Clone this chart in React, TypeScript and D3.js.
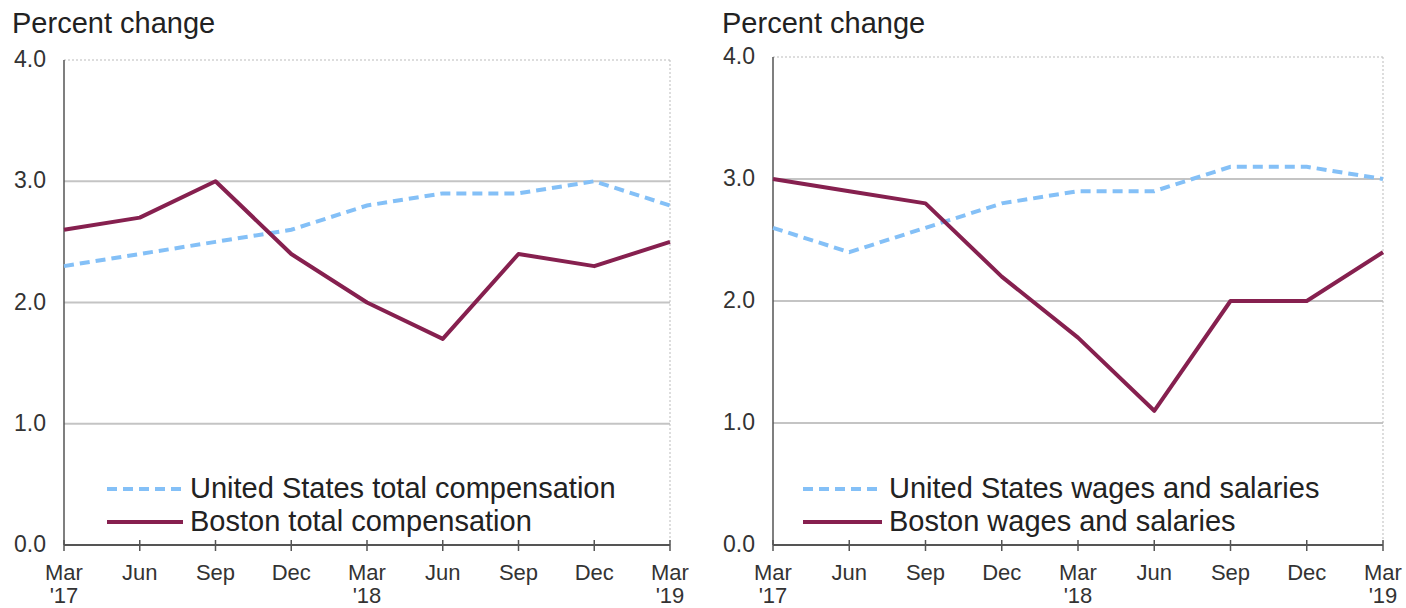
import * as d3 from 'd3'
import React, { useRef, useEffect } from 'react'

const quarters = ['Mar', 'Jun', 'Sep', 'Dec', 'Mar', 'Jun', 'Sep', 'Dec', 'Mar']
const years = ["'17", '', '', '', "'18", '', '', '', "'19"]
const yTicks = [0, 1, 2, 3, 4]

const usTotalComp = [2.3, 2.4, 2.5, 2.6, 2.8, 2.9, 2.9, 3.0, 2.8]
const bostonTotalComp = [2.6, 2.7, 3.0, 2.4, 2.0, 1.7, 2.4, 2.3, 2.5]
const usWages = [2.6, 2.4, 2.6, 2.8, 2.9, 2.9, 3.1, 3.1, 3.0]
const bostonWages = [3.0, 2.9, 2.8, 2.2, 1.7, 1.1, 2.0, 2.0, 2.4]

const US_COLOR = '#84c0f7'
const BOS_COLOR = '#86204f'
const FONT = 'Liberation Sans, Arial, sans-serif'

const panels = [
  {
    left: 64, right: 670, top: 60, bottom: 545, titleX: 12, labelX: 46,
    us: usTotalComp, bos: bostonTotalComp,
    usLabel: 'United States total compensation', bosLabel: 'Boston total compensation',
    legendX: 107, legendW: 76,
  },
  {
    left: 773, right: 1383, top: 57, bottom: 545, titleX: 722, labelX: 755,
    us: usWages, bos: bostonWages,
    usLabel: 'United States wages and salaries', bosLabel: 'Boston wages and salaries',
    legendX: 803, legendW: 79,
  },
]

const App = () => {
  const ref = useRef(null)

  useEffect(() => {
    draw()
  }, [])

  const draw = () => {
    const svg = d3.select(ref.current)
    svg.selectAll('*').remove()
    svg.style('font-family', FONT)

    panels.forEach((p) => {
      const x = d3.scaleLinear().domain([0, quarters.length - 1]).range([p.left, p.right])
      const y = d3.scaleLinear().domain([0, 4]).range([p.bottom, p.top])
      const g = svg.append('g')

      g.append('text')
        .attr('x', p.titleX)
        .attr('y', 33)
        .attr('font-size', 29)
        .attr('fill', '#222')
        .text('Percent change')

      // grid lines
      g.selectAll('.grid')
        .data(yTicks.filter((d) => d > 0))
        .enter()
        .append('line')
        .attr('x1', p.left)
        .attr('x2', p.right)
        .attr('y1', (d) => y(d))
        .attr('y2', (d) => y(d))
        .attr('stroke', (d) => (d === 4 ? '#bbb' : '#c4c4c4'))
        .attr('stroke-width', (d) => (d === 4 ? 1 : 2))
        .attr('stroke-dasharray', (d) => (d === 4 ? '2,2' : null))

      // right border
      g.append('line')
        .attr('x1', p.right)
        .attr('x2', p.right)
        .attr('y1', p.top)
        .attr('y2', p.bottom)
        .attr('stroke', '#bbb')
        .attr('stroke-dasharray', '2,2')

      g.selectAll('.ylab')
        .data(yTicks)
        .enter()
        .append('text')
        .attr('x', p.labelX)
        .attr('y', (d) => y(d) + 7)
        .attr('text-anchor', 'end')
        .attr('font-size', 23)
        .attr('fill', '#333')
        .text((d) => d.toFixed(1))

      // axes
      g.append('line')
        .attr('x1', p.left)
        .attr('x2', p.left)
        .attr('y1', p.top)
        .attr('y2', p.bottom)
        .attr('stroke', '#555')
        .attr('stroke-width', 1.5)
      g.append('line')
        .attr('x1', p.left)
        .attr('x2', p.right)
        .attr('y1', p.bottom)
        .attr('y2', p.bottom)
        .attr('stroke', '#555')
        .attr('stroke-width', 2)

      g.selectAll('.xtick')
        .data(quarters)
        .enter()
        .append('line')
        .attr('x1', (d, i) => x(i))
        .attr('x2', (d, i) => x(i))
        .attr('y1', p.bottom - 5)
        .attr('y2', p.bottom + 6)
        .attr('stroke', '#555')
        .attr('stroke-width', 1.5)

      g.selectAll('.xlab')
        .data(quarters)
        .enter()
        .append('text')
        .attr('x', (d, i) => x(i))
        .attr('y', 580)
        .attr('text-anchor', 'middle')
        .attr('font-size', 22)
        .attr('fill', '#333')
        .text((d) => d)

      g.selectAll('.ylab2')
        .data(years)
        .enter()
        .append('text')
        .attr('x', (d, i) => x(i))
        .attr('y', 603)
        .attr('text-anchor', 'middle')
        .attr('font-size', 22)
        .attr('fill', '#333')
        .text((d) => d)

      const line = d3
        .line<number>()
        .x((d, i) => x(i))
        .y((d) => y(d))

      g.append('path')
        .datum(p.us)
        .attr('fill', 'none')
        .attr('stroke', US_COLOR)
        .attr('stroke-width', 4)
        .attr('stroke-dasharray', '10,6')
        .attr('d', line)

      g.append('path')
        .datum(p.bos)
        .attr('fill', 'none')
        .attr('stroke', BOS_COLOR)
        .attr('stroke-width', 4)
        .attr('stroke-linejoin', 'round')
        .attr('d', line)

      // legend
      const legend = [
        { label: p.usLabel, color: US_COLOR, dash: '10,6', y: 489 },
        { label: p.bosLabel, color: BOS_COLOR, dash: null, y: 522 },
      ]
      legend.forEach((l) => {
        g.append('line')
          .attr('x1', p.legendX)
          .attr('x2', p.legendX + p.legendW)
          .attr('y1', l.y)
          .attr('y2', l.y)
          .attr('stroke', l.color)
          .attr('stroke-width', 4)
          .attr('stroke-dasharray', l.dash)
        g.append('text')
          .attr('x', p.legendX + p.legendW + 7)
          .attr('y', l.y + 9)
          .attr('font-size', 29)
          .attr('fill', '#222')
          .text(l.label)
      })
    })
  }

  return (
    <svg
      ref={ref}
      width={1406}
      height={608}
      style={{ position: 'absolute', left: 0, top: 0, background: '#fff' }}
    />
  )
}

export default App
